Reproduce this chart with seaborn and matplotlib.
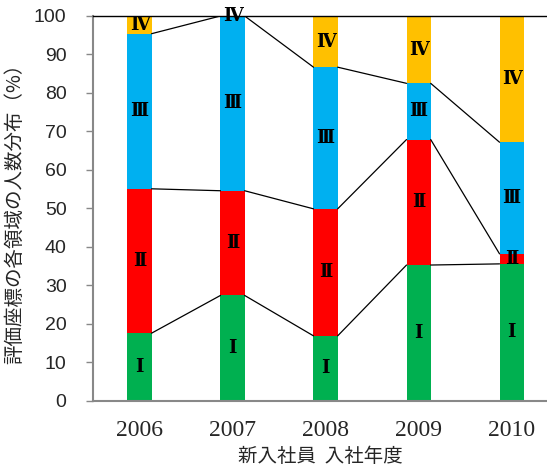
import numpy as np
import pandas as pd
import seaborn as sns
import matplotlib.pyplot as plt

# Share (%) of new employees in each region of the evaluation coordinates
years = ["2006", "2007", "2008", "2009", "2010"]
region_labels = ["Ⅰ", "Ⅱ", "Ⅲ", "Ⅳ"]
region_1 = [17.6, 27.4, 16.9, 35.3, 35.6]
region_2 = [37.5, 27.2, 33.0, 32.6, 2.6]
region_3 = [40.3, 45.4, 36.8, 14.6, 29.0]
region_4 = [4.6, 0.0, 13.3, 17.5, 32.8]
colors = ["#00B050", "#FF0000", "#00B0F0", "#FFC000"]
yticks = list(range(0, 101, 10))

sns.set_theme(style="white")
plt.rcParams["font.family"] = ["Noto Sans CJK JP", "DejaVu Sans"]

series = [region_1, region_2, region_3, region_4]
values = np.array(series)
cum = np.cumsum(values, axis=0)

fig = plt.figure(figsize=(5.47, 4.70), dpi=100)
ax = fig.add_axes([0.170, 0.147, 0.830, 0.819])

bar_w = 0.26
# stacked bars: draw cumulative totals from the top layer down
for k in range(3, -1, -1):
    df = pd.DataFrame({"year": years, "total": cum[k]})
    sns.barplot(data=df, x="year", y="total", color=colors[k], width=bar_w,
                saturation=1, ax=ax, linewidth=0, edgecolor="none")

# series lines joining segment boundaries of neighbouring bars
for k in range(3):
    for i in range(len(years) - 1):
        ax.plot([i + bar_w / 2, i + 1 - bar_w / 2], [cum[k][i], cum[k][i + 1]],
                color="black", lw=0.9, zorder=3)

# region labels at the centre of each segment
for k in range(4):
    for i in range(len(years)):
        y = cum[k][i] - values[k][i] / 2
        ax.text(i, y, region_labels[k], ha="center", va="center",
                fontsize=13, fontweight="bold", color="black",
                family=["DejaVu Serif", "Noto Sans CJK JP"], zorder=4)

ax.set_ylim(0, 100)
ax.set_xlim(-0.5, 4.38)
ax.set_yticks(yticks)
ax.set_yticklabels([str(t) for t in yticks], fontsize=14,
                   family=["Liberation Sans", "DejaVu Sans"])
ax.set_xticks(range(len(years)))
ax.set_xticklabels(years, fontsize=17, family=["Liberation Serif", "DejaVu Serif"])
ax.tick_params(axis="y", left=True, length=5, width=1, color="#888888", pad=14)
ax.tick_params(axis="x", bottom=False, pad=8)

ax.set_xlabel("新入社員  入社年度", fontsize=14, labelpad=3)
ax.set_ylabel("評価座標の各領域の人数分布（%）", fontsize=14, labelpad=6)

for side in ["left", "bottom"]:
    ax.spines[side].set_color("#888888")
    ax.spines[side].set_linewidth(1.5)
ax.spines["top"].set_color("black")
ax.spines["top"].set_linewidth(1)
ax.spines["right"].set_visible(False)

fig.savefig("out.png", dpi=100)
